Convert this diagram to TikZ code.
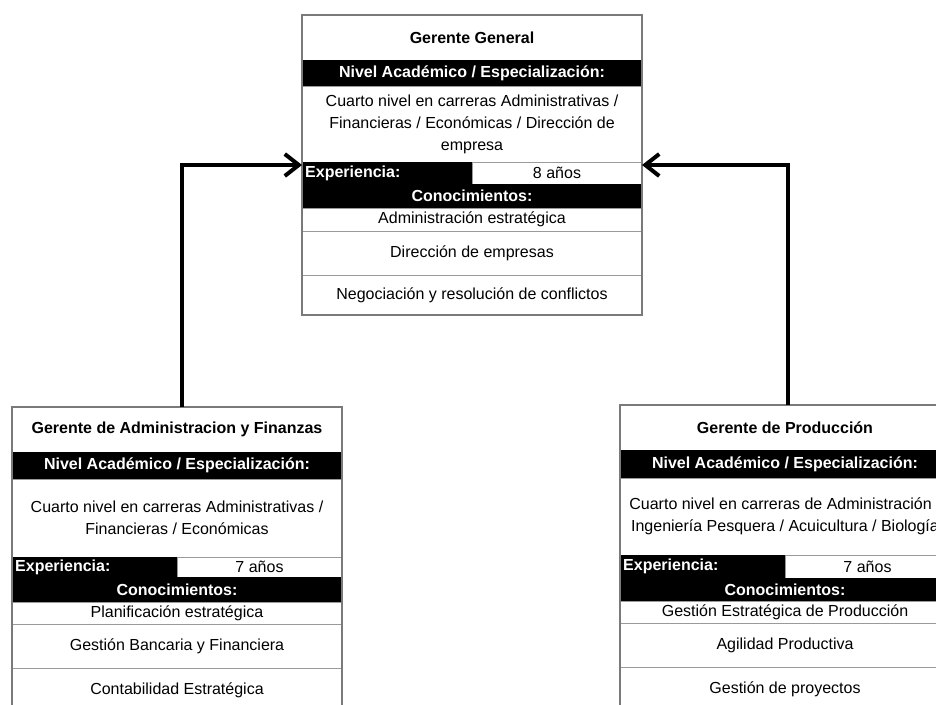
\documentclass[tikz,border=0pt]{standalone}
\usepackage{fontspec}
\setmainfont{Liberation Sans}
\usetikzlibrary{arrows.meta}
\definecolor{linegray}{HTML}{9A9A9A}
\definecolor{framegray}{HTML}{7A7A7A}
\newcommand\cellbox[7]{%
  \pgfmathsetmacro\cw{#5-#3}\pgfmathsetmacro\ch{#6-#4}%
  \node[#2, minimum width=\cw pt, minimum height=\ch pt, anchor=north west] (#1) at (#3,#4) {#7};}
\begin{document}
\begin{tikzpicture}[x=1pt,y=-1pt,
  cell/.style={draw=linegray, line width=0.8pt, rectangle, inner sep=0pt, outer sep=0pt,
    font=\fontsize{16}{22}\selectfont, align=center, fill=white},
  blk/.style={cell, draw=black, fill=black, text=white, font=\bfseries\fontsize{16}{22}\selectfont},
  lbl/.style={inner sep=0pt, text=white, font=\bfseries\fontsize{16}{22}\selectfont},
  frame/.style={draw=framegray, line width=1.4pt},
  conn/.style={draw=black, line width=4pt, -{Straight Barb[length=14pt,width=22pt]}}
]
\useasboundingbox (0,0) rectangle (936,704);
\clip (0,0) rectangle (936,704);
\fill[white] (0,0) rectangle (936,704);

% Top box: Gerente General
\cellbox{gt}{cell}{302}{15}{642}{60}{\bfseries Gerente General}
\cellbox{gn}{blk}{302}{60}{642}{86}{Nivel Académico / Especialización:}
\cellbox{gc}{cell}{302}{86}{642}{162}{Cuarto nivel en carreras Administrativas /\\Financieras / Económicas / Dirección de\\empresa}
\cellbox{gxa}{blk}{302}{162}{472}{184}{}
\cellbox{gxb}{cell}{472}{162}{642}{184}{8 años}
\cellbox{gk}{blk}{302}{184}{642}{208}{Conocimientos:}
\cellbox{g1}{cell}{302}{208}{642}{231}{Administración estratégica}
\cellbox{g2}{cell}{302}{231}{642}{275}{Dirección de empresas}
\cellbox{g3}{cell}{302}{275}{642}{315}{Negociación y resolución de conflictos}
\node[lbl, anchor=west] (gxl) at ([xshift=3pt]gxa.west) {Experiencia:};
\draw[frame] (gt.north west) rectangle (g3.south east);

% Left box
\cellbox{lt}{cell}{12}{407}{342}{452}{\bfseries Gerente de Administracion y Finanzas}
\cellbox{ln}{blk}{12}{452}{342}{479}{Nivel Académico / Especialización:}
\cellbox{lc}{cell}{12}{479}{342}{557}{Cuarto nivel en carreras Administrativas /\\Financieras / Económicas}
\cellbox{lxa}{blk}{12}{557}{177}{577}{}
\cellbox{lxb}{cell}{177}{557}{342}{577}{7 años}
\cellbox{lk}{blk}{12}{577}{342}{602}{Conocimientos:}
\cellbox{l1}{cell}{12}{602}{342}{624}{Planificación estratégica}
\cellbox{l2}{cell}{12}{624}{342}{668}{Gestión Bancaria y Financiera}
\cellbox{l3}{cell}{12}{668}{342}{712}{Contabilidad Estratégica}
\node[lbl, anchor=west] (lxl) at ([xshift=3pt]lxa.west) {Experiencia:};
\draw[frame] (lt.north west) rectangle (l3.south east);

% Right box
\cellbox{rt}{cell}{620}{405}{950}{450}{\bfseries Gerente de Producción}
\cellbox{rn}{blk}{620}{450}{950}{478}{Nivel Académico / Especialización:}
\cellbox{rc}{cell}{620}{478}{950}{555}{Cuarto nivel en carreras de Administración /\\Ingeniería Pesquera / Acuicultura / Biología}
\cellbox{rxa}{blk}{620}{555}{785}{578}{}
\cellbox{rxb}{cell}{785}{555}{950}{578}{7 años}
\cellbox{rk}{blk}{620}{578}{950}{601}{Conocimientos:}
\cellbox{r1}{cell}{620}{601}{950}{623}{Gestión Estratégica de Producción}
\cellbox{r2}{cell}{620}{623}{950}{667}{Agilidad Productiva}
\cellbox{r3}{cell}{620}{667}{950}{711}{Gestión de proyectos}
\node[lbl, anchor=west] (rxl) at ([xshift=3pt]rxa.west) {Experiencia:};
\draw[frame] (rt.north west) rectangle (r3.south east);

% Connectors
\draw[conn] ([xshift=5pt]lt.north) |- ([yshift=-3pt]gxa.north west);
\draw[conn] ([xshift=3pt]rt.north) |- ([yshift=-3pt]gxb.north east);
\end{tikzpicture}
\end{document}
